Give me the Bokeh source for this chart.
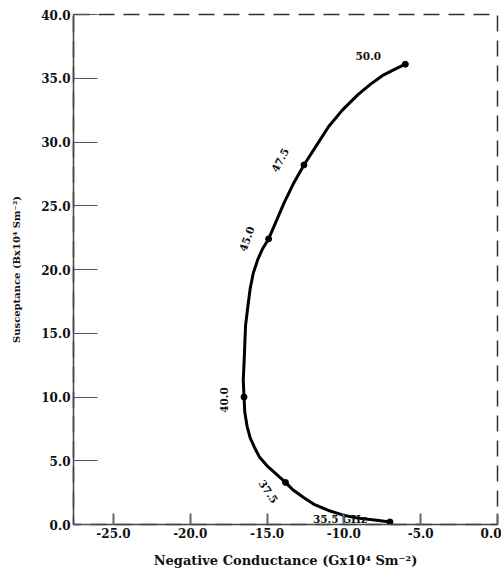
from bokeh.plotting import figure
from bokeh.models import Range1d, ColumnDataSource, PrintfTickFormatter, FixedTicker
from bokeh.core.properties import value
from bokeh.embed import file_html
from bokeh.resources import INLINE

# ---- data ----
freq_labels = ["35.5 GHz", "37.5", "40.0", "45.0", "47.5", "50.0"]
conductance = [-7.0, -13.8, -16.5, -14.9, -12.6, -6.0]
susceptance = [0.2, 3.3, 10.0, 22.4, 28.2, 36.1]

# traced curve through the marked frequencies
curve_g = [-7.0, -8.0, -9.1, -10.1, -11.0, -11.9, -12.6, -13.3, -13.8, -14.4, -15.0,
           -15.5, -15.8, -16.1, -16.3, -16.45, -16.5, -16.55, -16.5, -16.45, -16.4,
           -16.25, -16.1, -15.9, -15.6, -15.3, -14.9, -14.4, -13.9, -13.3, -12.6,
           -11.8, -11.0, -10.1, -9.1, -8.3, -7.5, -6.7, -6.0]
curve_b = [0.2, 0.35, 0.5, 0.75, 1.1, 1.55, 2.1, 2.7, 3.3, 3.95, 4.6,
           5.3, 6.0, 6.8, 7.7, 8.8, 10.0, 11.3, 12.6, 14.1, 15.6,
           17.1, 18.5, 19.7, 20.8, 21.6, 22.4, 23.8, 25.2, 26.7, 28.2,
           29.7, 31.2, 32.5, 33.7, 34.5, 35.2, 35.7, 36.1]

x_ticks = [-25, -20, -15, -10, -5, 0]
y_ticks = [0, 5, 10, 15, 20, 25, 30, 35, 40]

x_title = "Negative Conductance (Gx10\u2074 Sm\u207b\u00b2)"
y_title = "Susceptance (Bx10\u2074 Sm\u207b\u00b2)"

# ---- figure ----
p = figure(width=501, height=570, output_backend="svg", toolbar_location=None,
           x_range=Range1d(-27.6, 0), y_range=Range1d(0, 40),
           min_border_left=73, min_border_right=4, min_border_top=14, min_border_bottom=46)
p.grid.visible = False
p.background_fill_color = "white"
p.border_fill_color = "white"
p.outline_line_color = "#333333"
p.outline_line_dash = "16 9"
p.outline_line_width = 1.5

font = "DejaVu Serif"

for ax in (p.xaxis[0], p.yaxis[0]):
    ax.axis_line_color = "#444444"
    ax.axis_line_width = 1.5
    ax.major_tick_out = 0
    ax.minor_tick_in = 0
    ax.minor_tick_out = 0
    ax.major_label_text_font = font
    ax.major_label_text_font_style = "bold"
    ax.major_label_text_font_size = "12px"
    ax.major_label_text_color = "#111111"
    ax.axis_label_text_font = font
    ax.axis_label_text_font_style = "bold"
    ax.axis_label_text_color = "#111111"
    ax.formatter = PrintfTickFormatter(format="%.1f")

p.xaxis.ticker = FixedTicker(ticks=x_ticks)
p.yaxis.ticker = FixedTicker(ticks=y_ticks)
p.xaxis.major_tick_in = 11
p.xaxis.major_tick_line_width = 2
p.xaxis.major_tick_line_color = "#666666"
p.yaxis.major_tick_in = 24
p.yaxis.major_tick_line_width = 1
p.yaxis.major_tick_line_color = "#555555"
p.xaxis.major_label_standoff = 3
p.yaxis.major_label_standoff = 3
p.xaxis.axis_label = x_title
p.yaxis.axis_label = y_title
p.xaxis.axis_label_text_font_size = "13px"
p.yaxis.axis_label_text_font_size = "10px"
p.xaxis.axis_label_standoff = 12
p.yaxis.axis_label_standoff = 16

# curve and markers
p.line(curve_g, curve_b, line_color="black", line_width=3)
src = ColumnDataSource(dict(x=conductance, y=susceptance, t=freq_labels,
                            dx=[-50, -17, -20, -22, -24, -37],
                            dy=[-3, 9, 3, 0, -5, -8],
                            a=[0, -55, 90, 70, 62, 0]))
p.scatter("x", "y", source=src, size=6, color="black")
p.text("x", "y", text="t", source=src, x_offset="dx", y_offset="dy",
       angle="a", angle_units="deg", text_align="center", text_baseline="middle",
       text_font=value(font), text_font_style="bold", text_font_size="10.5px",
       text_color="#111111")

open("out.html", "w").write(file_html(p, INLINE))
